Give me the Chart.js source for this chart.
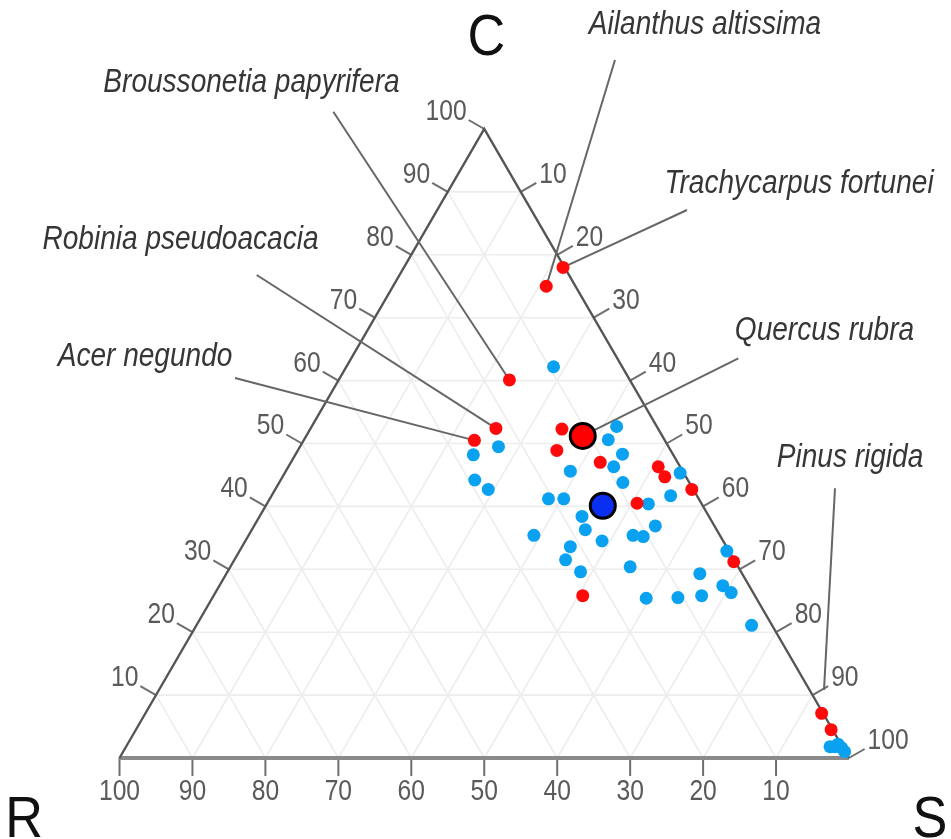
<!DOCTYPE html>
<html>
<head>
<meta charset="utf-8">
<script src="https://cdn.jsdelivr.net/npm/chart.js@4.4.0/dist/chart.umd.min.js"></script>
<style>
body { margin: 0; background: #fff; }
</style>
</head>
<body>
<canvas id="ternary" width="951" height="839"></canvas>
<script>
// CSR percentages of every species: C, S, R (R = 100 - C - S)
var blueC = [62.2, 52.7, 50.6, 49.5, 48.2, 48.3, 46.3, 45.6, 44.2, 42.7, 45.3, 43.8, 41.2, 41.2, 41.7, 40.4, 38.4, 36.3, 35.4, 34.5,
             35.4, 35.2, 36.9, 33.6, 31.5, 29.6, 30.4, 29.3, 27.4, 26.3, 25.4, 25.5, 25.8, 32.9, 21.1, 1.8, 2.2, 1.6, 1.0, 1.8];
var blueS = [28.4, 41.8, 41.7, 27.2, 24.4, 44.8, 44.6, 39.0, 26.6, 29.2, 54.2, 47.1, 38.2, 40.3, 54.7, 52.3, 44.2, 45.7, 39.1, 48.9,
             52.7, 54.2, 55.0, 45.0, 45.4, 48.4, 54.8, 64.9, 69.0, 70.7, 59.5, 63.8, 66.9, 66.8, 76.1, 96.5, 97.4, 98.2, 98.9, 97.1];
var blueR = [9.4, 5.5, 7.7, 23.3, 27.4, 6.9, 9.1, 15.4, 29.2, 28.1, 0.5, 9.1, 20.6, 18.5, 3.6, 7.3, 17.4, 18.0, 25.5, 16.6,
             11.9, 10.6, 8.1, 21.4, 23.1, 22.0, 14.8, 5.8, 3.6, 3.0, 15.1, 10.7, 7.3, 0.3, 2.8, 1.7, 0.4, 0.2, 0.1, 1.1];

var redC = [78.0, 75.0, 60.1, 52.4, 50.5, 52.3, 48.9, 47.0, 46.3, 44.7, 42.7, 40.5, 31.2, 25.8, 7.1, 4.5];
var redS = [21.8, 21.0, 23.4, 25.4, 23.4, 34.5, 35.5, 42.4, 50.7, 52.4, 57.1, 50.7, 68.6, 50.6, 92.7, 95.3];
var redR = [0.2, 4.0, 16.5, 22.2, 26.1, 13.2, 15.6, 10.6, 3.0, 2.9, 0.2, 8.8, 0.2, 23.6, 0.2, 0.2];

// group means: red, blue
var meanC = [51.2, 40.1];
var meanS = [37.9, 46.2];
var meanR = [10.9, 13.7];

var tickValues = [10, 20, 30, 40, 50, 60, 70, 80, 90, 100];
var gridValues = [10, 20, 30, 40, 50, 60, 70, 80, 90];

var species = ['Trachycarpus fortunei', 'Ailanthus altissima', 'Broussonetia papyrifera', 'Robinia pseudoacacia',
               'Acer negundo', 'Quercus rubra', 'Pinus rigida'];
// which point each name points at: index in the red arrays, -1 = red mean
var speciesPoint = [0, 1, 2, 3, 4, -1, 14];

// label placement, in plot units (x = S + C/2, y = C)
var labelLayout = [
    { text: [93.15, 89.83], from: [77.79, 87.12] },
    { text: [80.26, 115.10], from: [67.92, 110.97] },
    { text: [18.09, 105.88], from: [29.31, 102.75] },
    { text: [8.36, 80.92], from: [18.81, 76.79] },
    { text: [3.50, 62.32], from: [15.83, 60.41] },
    { text: [96.64, 66.45], from: [84.83, 63.55] },
    { text: [100.14, 46.26], from: [98.08, 42.88], to: [96.57, 10.81] }
];

function tern(c, s) {
    return { x: s + c / 2, y: c };
}

function points(cs, ss) {
    return cs.map(function (c, i) { return tern(c, ss[i]); });
}

var FONT = "'Liberation Sans', Arial, sans-serif";

function squeezed(ctx, str, x, y, align, sx) {
    ctx.save();
    ctx.translate(x, y);
    ctx.scale(sx, 1);
    ctx.textAlign = align;
    ctx.fillText(str, 0, 0);
    ctx.restore();
}

var ternaryFrame = {
    id: 'ternaryFrame',
    beforeDatasetsDraw: function (chart) {
        var ctx = chart.ctx;
        var xs = chart.scales.x, ys = chart.scales.y;
        function px(c, s) {
            var p = tern(c, s);
            return [xs.getPixelForValue(p.x), ys.getPixelForValue(p.y)];
        }
        function line(a, b) {
            ctx.beginPath();
            ctx.moveTo(a[0], a[1]);
            ctx.lineTo(b[0], b[1]);
            ctx.stroke();
        }
        ctx.save();
        ctx.lineCap = 'butt';

        // grid
        ctx.strokeStyle = '#ededed';
        ctx.lineWidth = 1.6;
        gridValues.forEach(function (k) {
            line(px(k, 0), px(k, 100 - k));
            line(px(0, k), px(100 - k, k));
            line(px(0, 100 - k), px(100 - k, 0));
        });

        // ticks
        ctx.strokeStyle = '#6e6e6e';
        ctx.lineWidth = 2;
        var tx = 15.6, ty = 9, tb = 18;
        ctx.fillStyle = '#5a5a5a';
        ctx.font = '29px ' + FONT;
        tickValues.forEach(function (k) {
            // bottom: R
            var b = px(0, 100 - k);
            line(b, [b[0], b[1] + tb]);
            ctx.textBaseline = 'alphabetic';
            squeezed(ctx, String(k), b[0], b[1] + tb + 24, 'center', 0.85);
            // left: C
            var l = px(k, 0);
            var le = [l[0] - tx, l[1] - ty];
            line(l, le);
            squeezed(ctx, String(k), le[0] - 2, le[1], 'right', 0.85);
            // right: S
            var r = px(100 - k, k);
            var re = [r[0] + tx, r[1] - ty];
            line(r, re);
            squeezed(ctx, String(k), re[0] + 3, re[1], 'left', 0.85);
        });

        // triangle sides
        var vR = px(0, 0), vS = px(0, 100), vC = px(100, 0);
        ctx.strokeStyle = '#8a8a8a';
        ctx.lineWidth = 4;
        line(vR, vS);
        ctx.strokeStyle = '#555';
        ctx.lineWidth = 2.4;
        ctx.beginPath();
        ctx.moveTo(vR[0], vR[1]);
        ctx.lineTo(vC[0], vC[1]);
        ctx.lineTo(vS[0], vS[1]);
        ctx.stroke();

        // vertex names
        ctx.fillStyle = '#111';
        ctx.font = '58px ' + FONT;
        squeezed(ctx, 'C', vC[0] + 2, 55, 'center', 0.9);
        squeezed(ctx, 'R', 24, 837, 'center', 0.9);
        squeezed(ctx, 'S', 930, 837, 'center', 0.9);

        // leader lines
        ctx.strokeStyle = '#666';
        ctx.lineWidth = 2;
        species.forEach(function (name, i) {
            var lay = labelLayout[i];
            var a = [xs.getPixelForValue(lay.from[0]), ys.getPixelForValue(lay.from[1])];
            var b;
            if (lay.to) {
                b = [xs.getPixelForValue(lay.to[0]), ys.getPixelForValue(lay.to[1])];
            } else if (speciesPoint[i] < 0) {
                b = px(meanC[0], meanS[0]);
            } else {
                b = px(redC[speciesPoint[i]], redS[speciesPoint[i]]);
            }
            line(a, b);
        });
        ctx.restore();
    },
    afterDatasetsDraw: function (chart) {
        var ctx = chart.ctx;
        var xs = chart.scales.x, ys = chart.scales.y;
        ctx.save();
        ctx.fillStyle = '#363636';
        ctx.font = 'italic 33px ' + FONT;
        species.forEach(function (name, i) {
            var t = labelLayout[i].text;
            squeezed(ctx, name, xs.getPixelForValue(t[0]), ys.getPixelForValue(t[1]), 'center', 0.85);
        });
        ctx.restore();
    }
};

var ctx = document.getElementById('ternary').getContext('2d');
var myChart = new Chart(ctx, {
    type: 'scatter',
    data: {
        datasets: [{
            label: 'mean red',
            data: [tern(meanC[0], meanS[0])],
            backgroundColor: '#ff0000',
            borderColor: '#000',
            borderWidth: 3,
            pointRadius: 12.5,
            pointHoverRadius: 12.5
        }, {
            label: 'mean blue',
            data: [tern(meanC[1], meanS[1])],
            backgroundColor: '#0a2ff0',
            borderColor: '#000',
            borderWidth: 3,
            pointRadius: 12.5,
            pointHoverRadius: 12.5
        }, {
            label: 'red',
            data: points(redC, redS),
            backgroundColor: '#ff0a0a',
            borderWidth: 0,
            pointRadius: 6.5,
            pointHoverRadius: 6.5
        }, {
            label: 'blue',
            data: points(blueC, blueS),
            backgroundColor: '#0aa2f0',
            borderWidth: 0,
            pointRadius: 6.5,
            pointHoverRadius: 6.5
        }]
    },
    options: {
        responsive: false,
        animation: false,
        events: [],
        clip: false,
        layout: { padding: 0, autoPadding: false },
        plugins: {
            legend: { display: false },
            tooltip: { enabled: false }
        },
        scales: {
            x: { type: 'linear', min: -16.381, max: 113.982, display: false },
            y: { type: 'linear', min: -12.878, max: 120.509, display: false }
        }
    },
    plugins: [ternaryFrame]
});
</script>
</body>
</html>
